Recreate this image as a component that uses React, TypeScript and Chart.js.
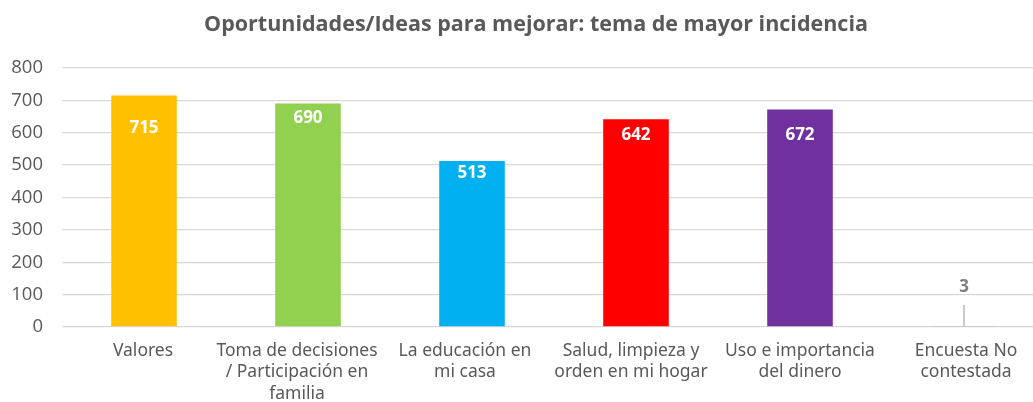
import React, { useEffect, useRef } from "react";
import { Chart, registerables } from "chart.js";

Chart.register(...registerables);

const TITLE = "Oportunidades/Ideas para mejorar: tema de mayor incidencia";
const categories: string[][] = [
  ["Valores"],
  ["Toma de decisiones", "/ Participación en", "familia"],
  ["La educación en", "mi casa"],
  ["Salud, limpieza y", "orden en mi hogar"],
  ["Uso e importancia", "del dinero"],
  ["Encuesta No", "contestada"],
];
const values: number[] = [715, 690, 513, 642, 672, 3];
const barColors: string[] = ["#FFC000", "#92D050", "#00B0F0", "#FF0000", "#7030A0", "#A5A5A5"];
// vertical offset (px) of each value label relative to the bar top
const labelOffsets: number[] = [33, 15, 12, 16, 26, -39];
// horizontal shift (px) of each category label relative to its tick
const tickShifts: number[] = [-1, -11, -7, -5, 0, 2];

const TEXT_COLOR = "#595959";

const decorPlugin = {
  id: "decor",
  afterDraw(chart: any) {
    const ctx = chart.ctx;
    const xScale = chart.scales.x;
    const area = chart.chartArea;
    ctx.save();
    // title
    ctx.font = "bold 21.5px 'Open Sans', sans-serif";
    ctx.fillStyle = TEXT_COLOR;
    ctx.textAlign = "center";
    ctx.textBaseline = "alphabetic";
    ctx.fillText(TITLE, 536, 30.5);
    // category labels
    ctx.font = "17.5px 'Noto Sans', sans-serif";
    ctx.textBaseline = "middle";
    categories.forEach((lines, i) => {
      const x = xScale.getPixelForTick(i) + tickShifts[i];
      lines.forEach((line, j) => {
        ctx.fillText(line, x, area.bottom + 24 + j * 21.5);
      });
    });
    ctx.restore();
  },
  afterDatasetsDraw(chart: any) {
    const ctx = chart.ctx;
    const meta = chart.getDatasetMeta(0);
    ctx.save();
    meta.data.forEach((bar: any, i: number) => {
      const v = values[i];
      const y = bar.y + labelOffsets[i];
      const inside = labelOffsets[i] > 0;
      ctx.font = "bold 17px 'Open Sans', 'DejaVu Sans', sans-serif";
      ctx.textAlign = "center";
      ctx.textBaseline = "middle";
      ctx.fillStyle = inside ? "#FFFFFF" : "#7F7F7F";
      ctx.fillText(String(v), bar.x, y);
      if (!inside) {
        ctx.strokeStyle = "#A6A6A6";
        ctx.lineWidth = 1.2;
        ctx.beginPath();
        ctx.moveTo(bar.x, y + 18);
        ctx.lineTo(bar.x, bar.y);
        ctx.stroke();
      }
    });
    ctx.restore();
  },
};

export default function App() {
  const ref = useRef<HTMLCanvasElement | null>(null);
  useEffect(() => {
    if (!ref.current) return;
    const chart = new Chart(ref.current, {
      type: "bar",
      data: {
        labels: categories.map((c) => c.join(" ")),
        datasets: [
          {
            data: values,
            backgroundColor: barColors,
            borderWidth: 0,
            barPercentage: 1,
            categoryPercentage: 0.4,
          },
        ],
      },
      options: {
        animation: false,
        responsive: false,
        maintainAspectRatio: false,
        layout: { padding: { left: 0, right: 0, top: 68, bottom: 0 } },
        plugins: {
          legend: { display: false },
          tooltip: { enabled: false },
          title: { display: false },
        },
        scales: {
          x: {
            grid: { display: false, drawTicks: false },
            border: { display: false },
            ticks: { display: false },
            afterFit(scale: any) {
              scale.height = 75;
            },
          },
          y: {
            min: 0,
            max: 800,
            ticks: {
              stepSize: 100,
              color: TEXT_COLOR,
              font: { family: "'Open Sans', sans-serif", size: 18.5 },
              padding: 19,
            },
            grid: { color: "#D9D9D9", lineWidth: 1.3, drawTicks: false },
            border: { display: false },
            afterFit(scale: any) {
              scale.width = 62;
            },
          },
        },
      },
      plugins: [decorPlugin],
    } as any);
    return () => chart.destroy();
  }, []);
  return (
    <div style={{ position: "absolute", left: 0, top: 0, width: 1033, height: 402, background: "#fff", overflow: "hidden" }}>
      <canvas ref={ref} width={1046} height={402} style={{ display: "block" }} />
    </div>
  );
}
